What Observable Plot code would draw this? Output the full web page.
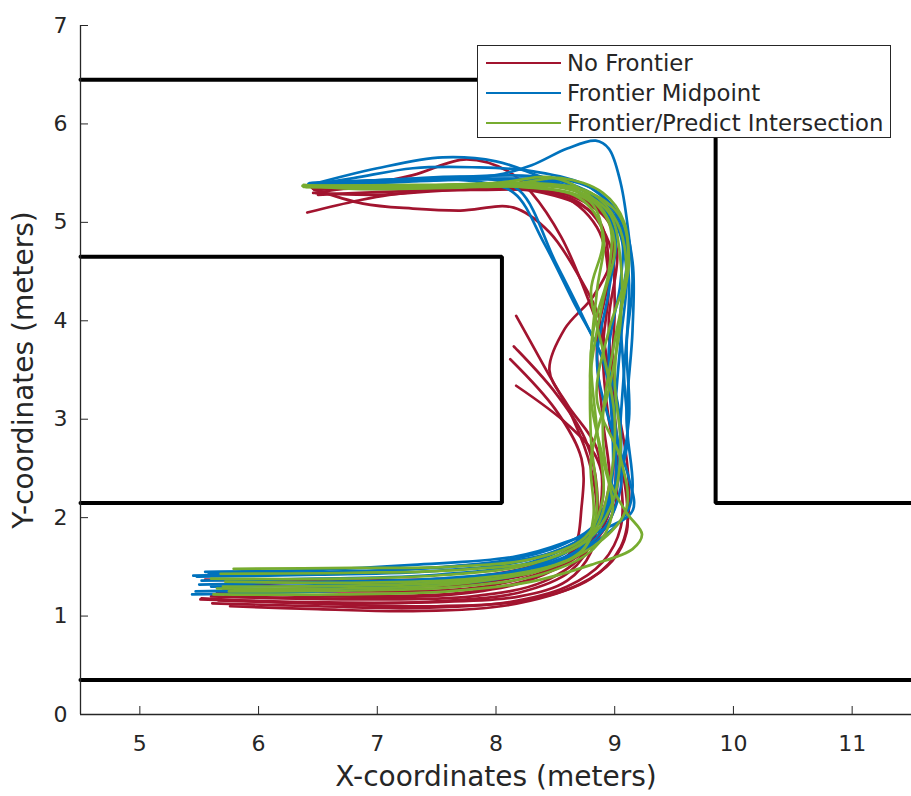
<!DOCTYPE html>
<html>
<head>
<meta charset="utf-8">
<script src="https://cdn.jsdelivr.net/npm/d3@7"></script>
<script src="https://cdn.jsdelivr.net/npm/@observablehq/plot@0.6"></script>
<style>
  body { margin: 0; background: white; }
  #wrap { position: relative; width: 911px; height: 796px; font-family: "DejaVu Sans", sans-serif; }
  #wrap svg { display: block; }
  [aria-label="x-axis label"] text, [aria-label="y-axis label"] text { font-size: 28px; }
  #legend { position: absolute; left: 477px; top: 45px; width: 412px; height: 91px; background: white; border: 1.3px solid #262626; }
  #legend .row { position: absolute; left: 0; height: 30px; display: flex; align-items: center; }
  #legend .row span.sw { display: inline-block; width: 75px; height: 2.8px; margin-left: 8px; margin-right: 6px; }
  #legend .row span.tx { font-size: 22.8px; color: #262626; white-space: nowrap; }
</style>
</head>
<body>
<div id="wrap"></div>
<script>
// ---- data ----
const methods = ["No Frontier", "Frontier Midpoint", "Frontier/Predict Intersection"];
const methodColors = ["#A2142F", "#0072BD", "#77AC30"];
const xTicks = [5, 6, 7, 8, 9, 10, 11];
const yTicks = [0, 1, 2, 3, 4, 5, 6, 7];
const xLabel = "X-coordinates (meters)";
const yLabel = "Y-coordinates (meters)";

// walls (meters)
const wallOuter = [[4.5,6.45],[9.85,6.45],[9.85,2.15],[11.5,2.15]];
const wallBox = [[4.5,4.65],[8.05,4.65],[8.05,2.15],[4.5,2.15]];
const wallBottom = [[4.5,0.35],[11.5,0.35]];

// No Frontier trajectories
const noFrontier = [
  [[5.76,1.10],[6.5,1.07],[7.3,1.05],[8.1,1.11],[8.7,1.32],[8.98,1.56],[9.1,1.85],[9.1,2.2],[9.02,2.8],[8.98,3.5],[9.0,4.2],[8.95,4.8],[8.7,5.2],[8.2,5.34],[7.4,5.36],[6.47,5.33]],
  [[5.61,1.13],[6.5,1.1],[7.3,1.08],[8.1,1.14],[8.6,1.3],[8.9,1.55],[9.05,1.9],[9.05,2.4],[8.95,3.0],[8.9,3.7],[8.95,4.4],[8.85,4.95],[8.5,5.3],[7.7,5.33],[7.0,5.28],[6.46,5.3]],
  [[5.51,1.17],[6.5,1.14],[7.4,1.14],[8.2,1.2],[8.6,1.36],[8.8,1.65],[8.85,2.0],[8.8,2.5],[8.65,3.0],[8.4,3.55],[8.17,4.05]],
  [[5.66,1.16],[6.6,1.13],[7.5,1.15],[8.2,1.24],[8.62,1.45],[8.82,1.8],[8.85,2.3],[8.75,2.8],[8.48,3.3],[8.15,3.74]],
  [[5.72,1.2],[6.8,1.18],[7.8,1.24],[8.35,1.4],[8.65,1.68],[8.72,2.1],[8.72,2.6],[8.5,3.1],[8.12,3.61]],
  [[5.79,1.32],[6.8,1.3],[7.8,1.33],[8.4,1.48],[8.75,1.78],[8.9,2.2],[8.85,2.6],[8.6,2.95],[8.17,3.34]],
  [[5.55,1.37],[6.8,1.36],[7.8,1.4],[8.4,1.55],[8.8,1.85],[8.95,2.3],[8.9,3.0],[8.85,3.8],[8.95,4.5],[8.85,5.05],[8.4,5.3],[7.6,5.33],[7.1,5.28],[6.83,5.22],[6.41,5.1]],
  [[5.65,1.24],[6.8,1.2],[7.8,1.25],[8.4,1.42],[8.8,1.72],[9.0,2.1],[9.0,2.7],[8.95,3.4],[8.87,4.03],[8.7,4.45],[8.45,4.9],[8.15,5.15],[7.7,5.12],[7.3,5.14],[6.88,5.19],[6.46,5.34]],
  [[5.7,1.28],[6.9,1.25],[7.9,1.3],[8.5,1.5],[8.85,1.8],[9.0,2.3],[8.98,3.0],[8.92,3.7],[8.75,4.3],[8.55,4.85],[8.3,5.3],[8.1,5.52],[7.75,5.64],[7.3,5.48],[6.9,5.38],[6.48,5.3]],
  [[5.6,1.2],[6.8,1.17],[7.8,1.2],[8.4,1.35],[8.75,1.65],[8.88,2.1],[8.85,2.7],[8.6,3.15],[8.45,3.5],[8.58,3.92],[8.82,4.25],[8.98,4.65],[8.95,5.0],[8.6,5.28],[7.8,5.33],[6.5,5.28]],
  [[5.52,1.18],[6.6,1.12],[7.5,1.1],[8.3,1.17],[8.8,1.38],[9.05,1.7],[9.12,2.1],[9.1,2.6],[9.0,3.3],[8.95,4.0],[9.02,4.7],[8.9,5.1],[8.55,5.31],[7.9,5.36],[7.2,5.34],[6.45,5.35]]
];

// Frontier Midpoint trajectories
const frontierMidpoint = [
  [[5.45,1.41],[6.5,1.44],[7.3,1.48],[8.1,1.57],[8.55,1.72],[8.85,1.95],[9.02,2.4],[9.05,3.0],[9.1,3.8],[9.15,4.4],[9.12,4.85],[9.05,5.4],[8.95,5.75],[8.84,5.83],[8.6,5.75],[8.3,5.58],[8.0,5.48],[7.3,5.42],[6.43,5.39]],
  [[5.55,1.45],[6.5,1.47],[7.3,1.52],[8.14,1.6],[8.56,1.74],[8.84,1.9],[9.0,2.3],[9.0,3.0],[9.05,3.8],[9.1,4.5],[9.0,5.0],[8.7,5.3],[8.3,5.5],[8.0,5.62],[7.55,5.66],[7.0,5.55],[6.43,5.38]],
  [[5.44,1.22],[6.5,1.25],[7.3,1.3],[8.2,1.42],[8.7,1.68],[8.95,2.05],[9.05,2.6],[9.0,3.3],[8.76,3.97],[8.5,4.6],[8.2,5.32],[7.9,5.45],[7.2,5.44],[6.42,5.38]],
  [[5.5,1.32],[6.6,1.35],[7.5,1.38],[8.3,1.5],[8.75,1.78],[8.95,2.2],[8.98,2.9],[8.9,3.6],[8.65,4.2],[8.4,4.8],[8.15,5.3],[7.8,5.42],[7.0,5.42],[6.44,5.38]],
  [[5.47,1.25],[6.5,1.28],[7.5,1.33],[8.3,1.46],[8.8,1.72],[9.1,2.05],[9.15,2.3],[9.1,3.0],[9.15,3.9],[9.15,4.6],[9.05,5.05],[8.8,5.35],[8.3,5.47],[7.5,5.45],[6.45,5.4]],
  [[5.52,1.36],[6.5,1.38],[7.5,1.42],[8.3,1.55],[8.75,1.82],[8.95,2.2],[9.1,2.7],[9.08,3.4],[9.05,4.1],[9.1,4.7],[8.95,5.15],[8.6,5.4],[7.9,5.44],[7.0,5.4],[6.42,5.39]],
  [[5.6,1.3],[6.7,1.32],[7.7,1.38],[8.4,1.52],[8.85,1.8],[9.05,2.3],[9.0,3.0],[8.95,3.7],[9.05,4.4],[9.05,4.9],[8.85,5.25],[8.4,5.42],[7.6,5.44],[6.8,5.42],[6.43,5.4]],
  [[5.48,1.4],[6.5,1.42],[7.5,1.46],[8.3,1.58],[8.8,1.86],[9.0,2.3],[9.12,3.0],[9.1,3.7],[9.12,4.4],[9.05,5.0],[8.8,5.35],[8.3,5.52],[7.8,5.56],[7.3,5.55],[6.8,5.45],[6.42,5.38]],
  [[5.58,1.43],[6.6,1.45],[7.6,1.5],[8.4,1.62],[8.85,1.85],[9.15,2.07],[9.12,2.4],[8.95,3.0],[8.85,3.6],[8.95,4.3],[9.0,4.9],[8.8,5.28],[8.3,5.42],[7.5,5.43],[6.44,5.38]]
];

// Frontier/Predict Intersection trajectories
const frontierPredict = [
  [[5.79,1.48],[6.8,1.49],[7.6,1.5],[8.3,1.58],[8.75,1.8],[8.9,2.2],[8.85,2.9],[8.8,3.6],[8.85,4.3],[8.9,4.9],[8.7,5.25],[8.2,5.36],[7.4,5.37],[6.37,5.37]],
  [[5.62,1.22],[6.7,1.22],[7.6,1.25],[8.3,1.35],[8.8,1.52],[9.15,1.68],[9.23,1.83],[9.1,2.05],[8.95,2.4],[8.9,3.0],[9.0,3.8],[9.1,4.5],[9.02,5.0],[8.8,5.3],[8.3,5.4],[7.4,5.37],[6.38,5.37]],
  [[5.7,1.3],[6.8,1.31],[7.7,1.35],[8.4,1.47],[8.75,1.7],[8.85,2.1],[8.8,2.8],[8.8,3.5],[8.9,4.2],[9.0,4.8],[8.85,5.2],[8.5,5.45],[8.0,5.4],[7.2,5.36],[6.39,5.37]],
  [[5.6,1.38],[6.7,1.38],[7.6,1.42],[8.3,1.53],[8.78,1.78],[8.98,2.15],[9.05,2.7],[9.0,3.4],[9.05,4.1],[9.12,4.6],[9.05,5.05],[8.75,5.32],[8.1,5.38],[7.2,5.37],[6.4,5.36]],
  [[5.75,1.25],[6.8,1.26],[7.7,1.3],[8.4,1.43],[8.82,1.68],[8.98,2.05],[8.9,2.6],[8.8,3.2],[8.82,3.9],[8.95,4.5],[8.95,5.0],[8.7,5.3],[8.2,5.38],[7.3,5.38],[6.4,5.37]],
  [[5.68,1.43],[6.8,1.44],[7.7,1.47],[8.4,1.57],[8.8,1.82],[8.95,2.3],[9.0,3.0],[8.9,3.7],[8.8,4.3],[8.9,4.8],[8.8,5.2],[8.4,5.35],[7.6,5.35],[6.8,5.34],[6.38,5.38]],
  [[5.72,1.35],[6.9,1.34],[7.8,1.38],[8.5,1.52],[8.9,1.78],[9.1,2.1],[9.05,2.6],[8.85,3.2],[8.95,3.9],[9.1,4.5],[9.08,5.0],[8.9,5.3],[8.55,5.45],[8.2,5.4],[7.4,5.35],[6.4,5.36]],
  [[5.65,1.28],[6.7,1.28],[7.6,1.32],[8.3,1.45],[8.72,1.65],[8.82,2.0],[8.8,2.6],[8.95,3.3],[9.05,4.0],[9.05,4.6],[8.95,5.1],[8.6,5.35],[7.9,5.37],[7.0,5.36],[6.38,5.36]]
];

// ---- build tables ----
const wallRows = [];
[wallOuter, wallBox, wallBottom].forEach((w, i) => w.forEach(([x, y]) => wallRows.push({wall: i, x, y})));

const trajRows = [];
[noFrontier, frontierMidpoint, frontierPredict].forEach((group, gi) => {
  group.forEach((traj, ti) => traj.forEach(([x, y]) => trajRows.push({method: methods[gi], id: gi + "-" + ti, x, y})));
});

const chart = Plot.plot({
  width: 911,
  height: 796,
  marginLeft: 80,
  marginRight: 0,
  marginTop: 25,
  marginBottom: 82,
  style: {fontFamily: "DejaVu Sans, sans-serif", fontSize: "22px", color: "#262626", background: "white"},
  x: {domain: [4.5, 11.5]},
  y: {domain: [0, 7]},
  color: {domain: methods, range: methodColors},
  marks: [
    Plot.line(wallRows, {x: "x", y: "y", z: "wall", stroke: "black", strokeWidth: 4, strokeLinejoin: "miter"}),
    Plot.line(trajRows, {x: "x", y: "y", z: "id", stroke: "method", strokeWidth: 2.7, curve: "catmull-rom"}),
    Plot.ruleY([0], {stroke: "#262626", strokeWidth: 1.3}),
    Plot.ruleX([4.5], {stroke: "#262626", strokeWidth: 1.3}),
    Plot.axisX({ticks: xTicks, tickFormat: d => String(d), tickSize: -8, tickPadding: 29, stroke: "#262626", label: xLabel, labelAnchor: "center", labelArrow: "none", labelOffset: 71}),
    Plot.axisY({ticks: yTicks, tickFormat: d => String(d), tickSize: -8, tickPadding: 21, stroke: "#262626", label: yLabel, labelAnchor: "center", labelArrow: "none", labelOffset: 67})
  ]
});

const wrap = document.getElementById("wrap");
wrap.appendChild(chart);

// legend
const legend = document.createElement("div");
legend.id = "legend";
methods.forEach((m, i) => {
  const row = document.createElement("div");
  row.className = "row";
  row.style.top = (2 + i * 30) + "px";
  const sw = document.createElement("span");
  sw.className = "sw";
  sw.style.background = methodColors[i];
  const tx = document.createElement("span");
  tx.className = "tx";
  tx.textContent = m;
  row.appendChild(sw);
  row.appendChild(tx);
  legend.appendChild(row);
});
wrap.appendChild(legend);
</script>
</body>
</html>
